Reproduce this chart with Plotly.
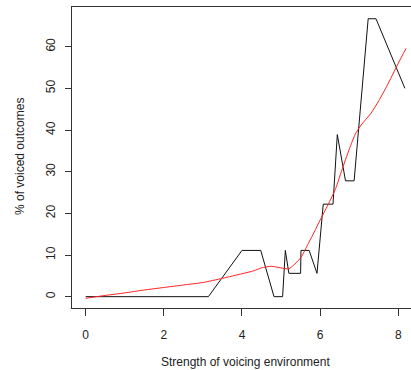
import plotly.graph_objects as go

# Observed proportions (black line)
obs_x = [0, 3.14, 4.0, 4.48, 4.82, 5.04, 5.11, 5.2, 5.5, 5.51, 5.72, 5.92,
         6.08, 6.33, 6.44, 6.65, 6.87, 7.23, 7.43, 8.17]
obs_y = [0, 0, 11.1, 11.1, 0, 0, 11.1, 5.6, 5.6, 11.1, 11.1, 5.6,
         22.2, 22.2, 38.9, 27.8, 27.8, 66.7, 66.7, 50.0]

# Smoothed fit (red line)
fit_x = [0, 0.5, 1.0, 1.5, 2.0, 2.5, 3.0, 3.5, 4.0, 4.3, 4.5, 4.75, 5.0, 5.2,
         5.5, 5.7, 5.85, 6.0, 6.2, 6.4, 6.55, 6.75, 6.9, 7.05, 7.3, 7.5, 7.7,
         8.0, 8.2]
fit_y = [-0.4, 0.3, 0.9, 1.6, 2.2, 2.8, 3.4, 4.4, 5.5, 6.2, 6.9, 7.3, 6.9, 6.7,
         9.3, 12.8, 15.5, 18.4, 22.0, 26.0, 30.2, 35.5, 39.0, 41.2, 44.0, 47.0,
         50.4, 56.0, 59.6]

x_ticks = [0, 2, 4, 6, 8]
y_ticks = [0, 10, 20, 30, 40, 50, 60]

x_title = "Strength of voicing environment"
y_title = "% of voiced outcomes"

font = dict(family="Liberation Sans, Arial, sans-serif", size=12, color="#222")

fig = go.Figure()
fig.add_trace(go.Scatter(x=obs_x, y=obs_y, mode="lines",
                         line=dict(color="#111", width=1), hoverinfo="skip"))
fig.add_trace(go.Scatter(x=fit_x, y=fit_y, mode="lines",
                         line=dict(color="#ff2020", width=1, shape="spline", smoothing=0.6),
                         hoverinfo="skip"))

fig.update_layout(
    width=411, height=370,
    margin=dict(l=72, r=0, t=7, b=62),
    plot_bgcolor="white", paper_bgcolor="white",
    showlegend=False, font=font,
    xaxis=dict(range=[-0.35, 8.326], tickvals=x_ticks, ticks="outside", ticklen=7,
               tickcolor="#333", showline=True, linecolor="#333", linewidth=1,
               mirror=True, showgrid=False, zeroline=False, tickfont=font,
               ticklabelstandoff=9),
    yaxis=dict(range=[-2.72, 69.52], tickvals=y_ticks, ticks="outside", ticklen=6,
               tickcolor="#333", showline=True, linecolor="#333", linewidth=1,
               mirror=False, showgrid=False, zeroline=False, tickangle=-90,
               tickfont=font, ticklabelstandoff=5),
    annotations=[
        dict(text=x_title, x=(245.7 - 72) / 339, y=(308 - 361.7) / 301,
             xref="paper", yref="paper", showarrow=False, font=font,
             xanchor="center", yanchor="middle"),
        dict(text=y_title, x=(20 - 72) / 339, y=(308 - 157) / 301,
             xref="paper", yref="paper", showarrow=False, font=font,
             textangle=-90, xanchor="center", yanchor="middle"),
    ],
)

fig.write_html("out.html")
